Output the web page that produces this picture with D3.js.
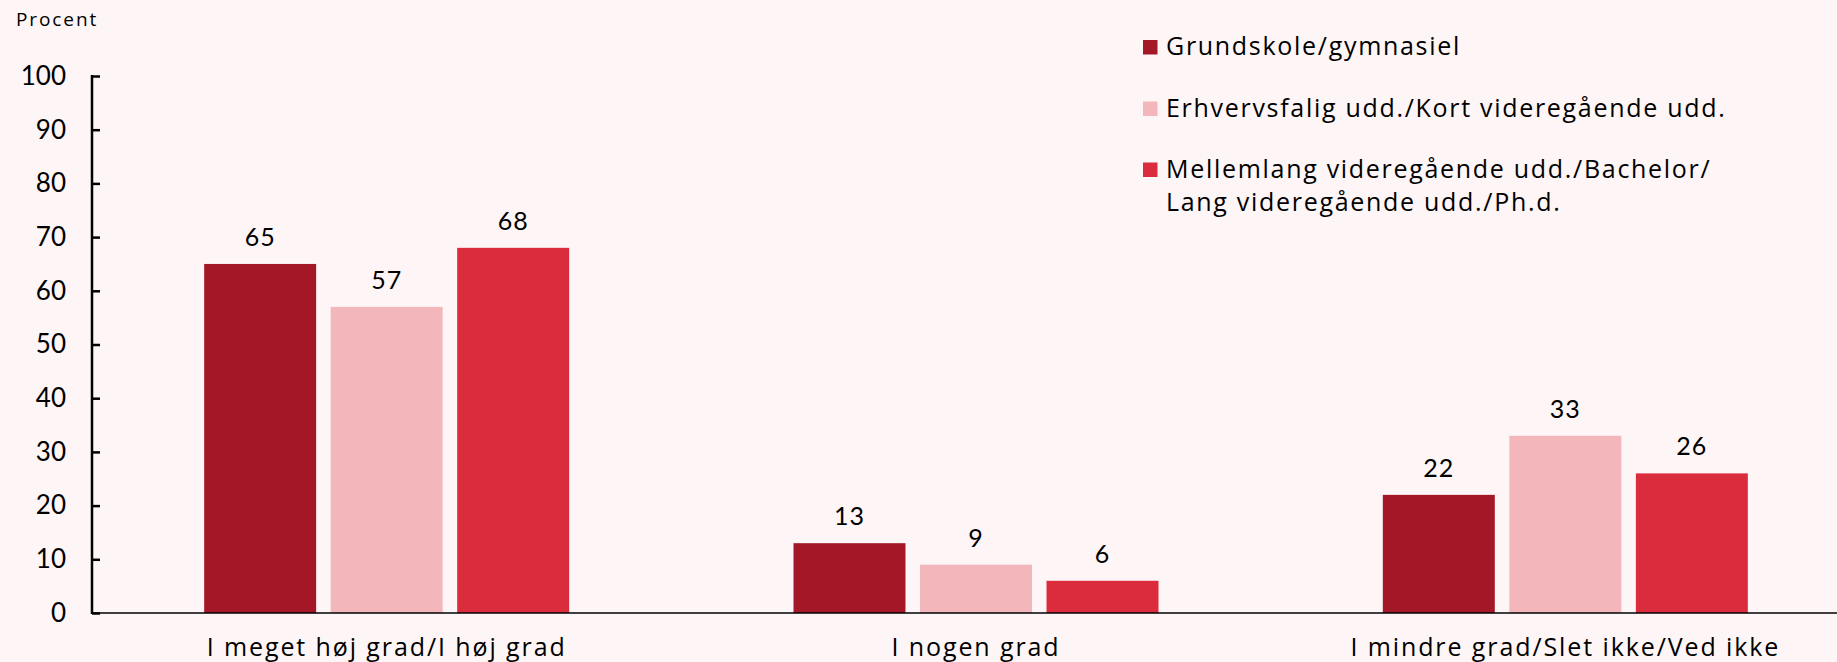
<!DOCTYPE html>
<html>
<head>
<meta charset="utf-8">
<script src="https://cdn.jsdelivr.net/npm/d3@7"></script>
<style>
  body { margin: 0; background: #fef5f6; }
  svg { display: block; font-family: "Open Sans", sans-serif; }
</style>
</head>
<body>
<svg id="chart" width="1837" height="662"></svg>
<script>
const categories = ["I meget høj grad/I høj grad", "I nogen grad", "I mindre grad/Slet ikke/Ved ikke"];
const series = ["Grundskole/gymnasiel", "Erhvervsfalig udd./Kort videregående udd.", "Mellemlang videregående udd./Bachelor/\nLang videregående udd./Ph.d."];
const grundskole = [65, 13, 22];
const erhvervsfaglig = [57, 9, 33];
const mellemlang = [68, 6, 26];
const colors = ["#a31727", "#f3b6bb", "#da2c3c"];
const yTicks = [0, 10, 20, 30, 40, 50, 60, 70, 80, 90, 100];

const values = [grundskole, erhvervsfaglig, mellemlang];
const svg = d3.select("#chart");

const x0 = d3.scaleBand().domain(categories).range([92, 1860]);
const x1 = d3.scaleBand().domain(series)
    .range([-182.5, 182.5])
    .paddingInner(0.115);
const y = d3.scaleLinear().domain([0, 100]).range([613, 76]);

// y axis
const yAxis = svg.append("g")
    .attr("transform", "translate(92,0)")
    .call(d3.axisRight(y).tickValues(yTicks).tickSize(8).tickFormat(d3.format("d")));
yAxis.select(".domain").remove();
yAxis.selectAll(".tick line").attr("stroke", "#000").attr("stroke-width", 2.5);
yAxis.selectAll(".tick text")
    .attr("x", -26)
    .attr("text-anchor", "end")
    .attr("fill", "#000")
    .style("font-family", "Lato, sans-serif")
    .style("font-size", "26px");
svg.append("line")
    .attr("x1", 92).attr("x2", 92)
    .attr("y1", y(100) - 1).attr("y2", y(0) + 1)
    .attr("stroke", "#000").attr("stroke-width", 2.5);

svg.append("text")
    .attr("x", 16).attr("y", 26)
    .style("font-size", "19px")
    .style("letter-spacing", "1.9px")
    .text("Procent");

// bars
const groups = svg.append("g").selectAll("g")
    .data(categories)
    .join("g")
    .attr("transform", d => `translate(${x0(d) + x0.bandwidth() / 2},0)`);

groups.selectAll("rect")
    .data((c, ci) => series.map((s, si) => ({ s, si, v: values[si][ci] })))
    .join("rect")
    .attr("x", d => x1(d.s))
    .attr("width", x1.bandwidth())
    .attr("y", d => y(d.v))
    .attr("height", d => y(0) - y(d.v))
    .attr("fill", d => colors[d.si]);

groups.selectAll("text.val")
    .data((c, ci) => series.map((s, si) => ({ s, si, v: values[si][ci] })))
    .join("text")
    .attr("class", "val")
    .attr("x", d => x1(d.s) + x1.bandwidth() / 2)
    .attr("y", d => y(d.v) - 18)
    .attr("text-anchor", "middle")
    .style("font-family", "Lato, sans-serif")
    .style("font-size", "25px")
    .style("letter-spacing", "1px")
    .text(d => d.v);

// x axis line
svg.append("line")
    .attr("x1", 91).attr("x2", 1837)
    .attr("y1", y(0)).attr("y2", y(0))
    .attr("stroke", "#000").attr("stroke-width", 1.6);

groups.append("text")
    .attr("x", 0).attr("y", 656)
    .attr("text-anchor", "middle")
    .style("font-size", "25px")
    .style("letter-spacing", "1.9px")
    .text(d => d);

// legend
const legendRows = [47, 108.5, 169.5];
const legend = svg.append("g").selectAll("g")
    .data(series)
    .join("g")
    .attr("transform", (d, i) => `translate(1143,${legendRows[i]})`);
legend.append("rect")
    .attr("x", 0).attr("y", -7)
    .attr("width", 14.5).attr("height", 14.5)
    .attr("fill", (d, i) => colors[i]);
legend.append("text")
    .attr("x", 23).attr("y", 8)
    .style("font-size", "25px")
    .style("letter-spacing", "1.7px")
    .selectAll("tspan")
    .data(d => d.split("\n"))
    .join("tspan")
    .attr("x", 23)
    .attr("dy", (d, i) => i === 0 ? 0 : 33)
    .text(d => d);
</script>
</body>
</html>
